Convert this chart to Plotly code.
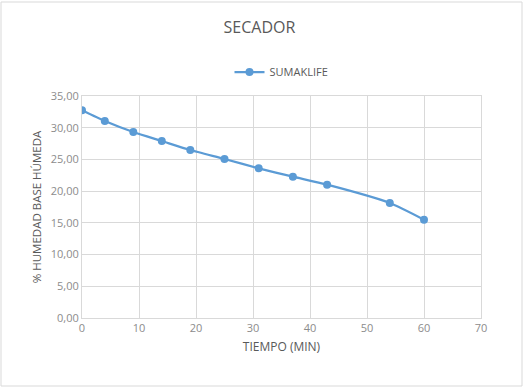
import plotly.graph_objects as go

tiempo = [0, 4, 9, 14, 19, 25, 31, 37, 43, 54, 60]
humedad = [32.74, 31.06, 29.32, 27.90, 26.48, 25.07, 23.60, 22.28, 21.02, 18.13, 15.50]
serie = "SUMAKLIFE"

W, H = 524, 387
ml, mr, mt, mb = 82, 43, 96, 69
pw, ph = W - ml - mr, H - mt - mb

fig = go.Figure()
fig.add_trace(go.Scatter(
    x=tiempo, y=humedad, name=serie, mode="lines+markers",
    line=dict(color="#5B9BD5", width=2.25, shape="spline", smoothing=0.6),
    marker=dict(color="#5B9BD5", size=8),
))

font_family = "Open Sans, Liberation Sans, sans-serif"
fig.update_layout(
    width=W, height=H,
    margin=dict(l=ml, r=mr, t=mt, b=mb),
    paper_bgcolor="white", plot_bgcolor="white",
    separators=",.",
    font=dict(family=font_family, color="#595959", size=11),
    title=dict(text="SECADOR", x=259.5 / W, xref="container", xanchor="center",
               y=1 - 27 / H, yanchor="middle",
               font=dict(size=16, color="#595959", family=font_family)),
    showlegend=True,
    legend=dict(orientation="h", x=0.5, xanchor="center", y=1 + (mt - 72) / ph,
                yanchor="middle", font=dict(size=11, color="#595959"),
                bgcolor="rgba(0,0,0,0)"),
    xaxis=dict(range=[0, 70], dtick=10, tick0=0, showgrid=True, gridcolor="#D9D9D9",
               gridwidth=1, showline=True, linecolor="#D9D9D9", mirror=True,
               zeroline=False, ticks="", tickfont=dict(size=11, color="#8C8C8C"),
               title=dict(text="TIEMPO (MIN)", font=dict(size=12, color="#595959"), standoff=8)),
    yaxis=dict(range=[0, 35], dtick=5, tick0=0, tickformat=".2f", showgrid=True,
               gridcolor="#D9D9D9", gridwidth=1, showline=True, linecolor="#D9D9D9",
               mirror=True, zeroline=False, ticks="",
               tickfont=dict(size=11, color="#8C8C8C"),
               title=dict(text="% HUMEDAD BASE HÚMEDA", font=dict(size=11.5, color="#595959"), standoff=6)),
)

fig.add_shape(type="rect", xref="paper", yref="paper",
              x0=(-ml + 1) / pw, x1=(pw + mr - 2) / pw,
              y0=(-mb + 1) / ph, y1=(ph + mt - 2) / ph,
              line=dict(color="#D9D9D9", width=1), layer="below")

fig.write_html("out.html", config={"displayModeBar": False},
               post_script="document.body.style.margin='0';")
